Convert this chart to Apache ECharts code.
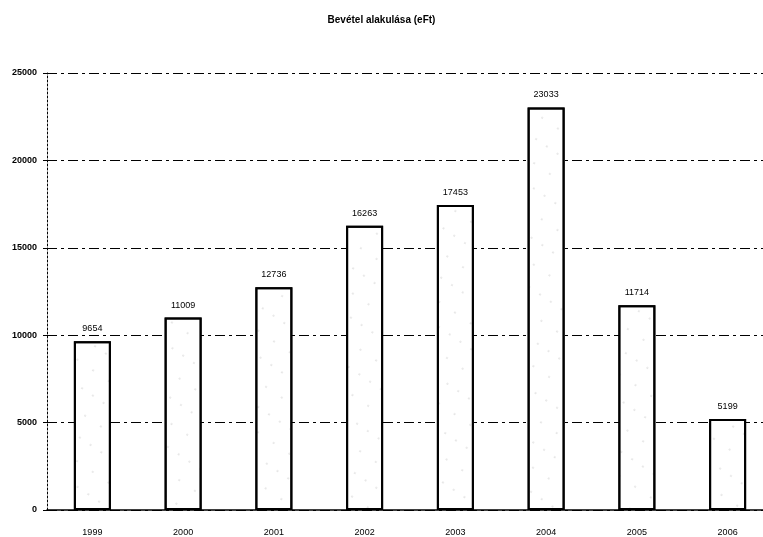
<!DOCTYPE html>
<html>
<head>
<meta charset="utf-8">
<script src="https://cdn.jsdelivr.net/npm/echarts@6/dist/echarts.min.js"></script>
<style>html,body{margin:0;padding:0;background:#fff;}#c{width:763px;height:537px;}</style>
</head>
<body>
<div id="c"></div>
<script>
var years = ['1999', '2000', '2001', '2002', '2003', '2004', '2005', '2006'];
var revenue = [9654, 11009, 12736, 16263, 17453, 23033, 11714, 5199];
var yTicks = [0, 5000, 10000, 15000, 20000, 25000];

var chart = echarts.init(document.getElementById('c'));
chart.setOption({
  animation: false,
  backgroundColor: '#fff',
  aria: {enabled: true, decal: {show: true}},
  title: {
    text: 'Bevétel alakulása (eFt)',
    left: 'center',
    top: 10,
    textStyle: {fontFamily: 'Liberation Sans, Arial', fontSize: 10, fontWeight: 'bold', color: '#000'}
  },
  grid: {left: 47, top: 73, right: -10, bottom: 27, containLabel: false, outerBoundsMode: 'none'},
  xAxis: {
    type: 'category',
    data: years,
    axisLine: {lineStyle: {color: '#000', width: 1.5}},
    axisTick: {show: false},
    axisLabel: {margin: 18, fontFamily: 'Liberation Sans, Arial', fontSize: 9, color: '#000'}
  },
  yAxis: {
    type: 'value',
    min: yTicks[0],
    max: yTicks[yTicks.length - 1],
    interval: 5000,
    axisLine: {show: true, lineStyle: {color: '#000', width: 1, type: [2, 2]}},
    axisTick: {show: true, length: 4, lineStyle: {color: '#000'}},
    axisLabel: {margin: 10, fontFamily: 'Liberation Sans, Arial', fontSize: 9, fontWeight: 'bold', color: '#000',
      formatter: function (v) { return String(v); }},
    splitLine: {show: true, lineStyle: {color: '#000', width: 1, type: [10, 4, 3, 4]}}
  },
  series: [{
    type: 'bar',
    data: revenue,
    barWidth: 37,
    itemStyle: {
      color: '#fff',
      borderColor: '#000',
      borderWidth: 2,
      decal: {symbol: 'circle', symbolSize: 0.5, color: 'rgba(0,0,0,0.45)', dashArrayX: [[2, 11], [2, 17]], dashArrayY: [2, 19], rotation: 0.6}
    },
    label: {
      show: true,
      position: 'top',
      distance: 8,
      fontFamily: 'Liberation Sans, Arial',
      fontSize: 9,
      color: '#000'
    }
  }]
});
</script>
</body>
</html>
